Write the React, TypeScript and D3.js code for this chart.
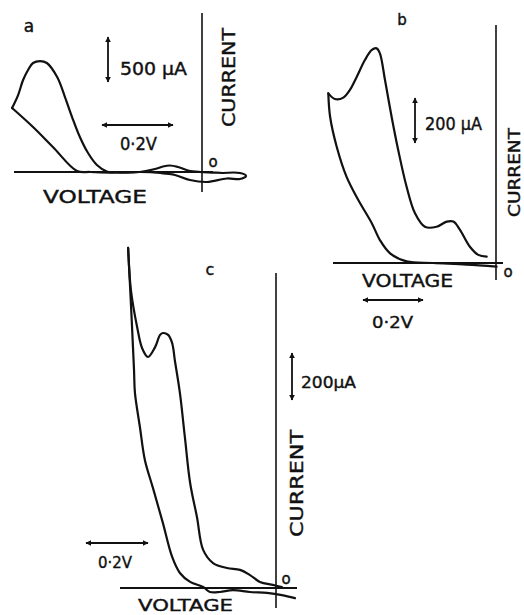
import React from "react";
import * as d3 from "d3";

// ---- Panel a : voltage (V, relative to current axis), current (μA)
const aSweepOut: [number, number][] = [
  [0.059, -11], [0.107, -11], [0.124, -44], [0.107, -78], [0.07, -72],
  [0.014, -111], [-0.034, -89], [-0.076, -33], [-0.118, -11], [-0.175, 0],
  [-0.259, -6], [-0.315, 0], [-0.352, 11], [-0.42, 278], [-0.476, 500], [-0.535, 711],
];
const aSweepBack: [number, number][] = [
  [-0.535, 711], [-0.518, 855], [-0.504, 1022], [-0.49, 1133], [-0.476, 1211],
  [-0.456, 1233], [-0.437, 1211], [-0.408, 1055], [-0.386, 833], [-0.366, 611],
  [-0.344, 389], [-0.321, 211], [-0.296, 78], [-0.268, 6], [-0.231, -6],
  [-0.175, 0], [-0.132, 33], [-0.11, 61], [-0.09, 72], [-0.068, 56],
  [-0.039, 17], [-0.006, 0], [0.028, -6], [0.059, -11],
];

// ---- Panel b
const bSweepOut: [number, number][] = [
  [0.002, -16], [-0.098, -7], [-0.209, 0], [-0.298, 7], [-0.353, 43],
  [-0.387, 102], [-0.414, 177], [-0.459, 280], [-0.498, 383], [-0.531, 517],
  [-0.553, 650], [-0.559, 754],
];
const bSweepBack: [number, number][] = [
  [-0.559, 754], [-0.537, 729], [-0.509, 735], [-0.487, 769], [-0.464, 828],
  [-0.437, 902], [-0.414, 947], [-0.398, 954], [-0.387, 932], [-0.37, 813],
  [-0.348, 650], [-0.326, 502], [-0.298, 339], [-0.27, 221], [-0.237, 161],
  [-0.198, 161], [-0.164, 184], [-0.142, 184], [-0.12, 147], [-0.087, 72],
  [-0.059, 36], [-0.031, 28],
];

// ---- Panel c
const cSweepOut: [number, number][] = [
  [0.061, -43], [0.019, -30], [-0.029, -21], [-0.084, -17], [-0.139, -9],
  [-0.181, -17], [-0.213, -17], [-0.235, 4], [-0.277, 26], [-0.31, 64],
  [-0.335, 132], [-0.365, 277], [-0.397, 426], [-0.423, 545], [-0.439, 685],
  [-0.455, 830], [-0.458, 928], [-0.465, 1128], [-0.477, 1447],
];
const cSweepBack: [number, number][] = [
  [-0.477, 1447], [-0.468, 1268], [-0.448, 1111], [-0.432, 1021], [-0.413, 983],
  [-0.39, 1025], [-0.374, 1077], [-0.365, 1085], [-0.348, 1077], [-0.335, 1042],
  [-0.326, 966], [-0.31, 830], [-0.294, 643], [-0.277, 447], [-0.255, 302],
  [-0.235, 162], [-0.203, 106], [-0.158, 85], [-0.116, 77], [-0.084, 55],
  [-0.052, 26], [-0.01, 13], [0.019, 4],
];

// scale bar steps
const voltStep = 0.2;
const aCurrentStep = 500;
const bCurrentStep = 200;
const cCurrentStep = 200;

type Lbl = { t: string; x: number; y: number; size: number; len?: number; anchor?: string; rot?: boolean };

const panels = [
  {
    key: "a", sweeps: [aSweepOut, aSweepBack], iStep: aCurrentStep,
    ox: 202, oy: 172, vPx: 71, iPx: 45,
    axisY: [13, 192], baseX: [14, 213],
    vArrow: [108, 37], hArrow: [102, 125],
    labels: [
      { t: "a", x: 29, y: 32, size: 17, anchor: "middle" },
      { t: "500 μA", x: 120, y: 75, size: 17, len: 67 },
      { t: "0·2V", x: 120, y: 150, size: 17, len: 37 },
      { t: "CURRENT", x: 235, y: 127, size: 18, len: 99, rot: true },
      { t: "VOLTAGE", x: 43, y: 203, size: 17, len: 104 },
      { t: "o", x: 213, y: 167, size: 15, anchor: "middle" },
    ] as Lbl[],
  },
  {
    key: "b", sweeps: [bSweepOut, bSweepBack], iStep: bCurrentStep,
    ox: 496, oy: 263, vPx: 60, iPx: 45,
    axisY: [25, 280], baseX: [333, 503],
    vArrow: [415, 98], hArrow: [363, 300],
    labels: [
      { t: "b", x: 402, y: 25, size: 15, anchor: "middle" },
      { t: "200 μA", x: 425, y: 130, size: 17, len: 57 },
      { t: "CURRENT", x: 520, y: 217, size: 15, len: 89, rot: true },
      { t: "o", x: 508, y: 277, size: 15, anchor: "middle" },
      { t: "VOLTAGE", x: 362, y: 287, size: 18, len: 91 },
      { t: "0·2V", x: 372, y: 328, size: 16, len: 41 },
    ] as Lbl[],
  },
  {
    key: "c", sweeps: [cSweepOut, cSweepBack], iStep: cCurrentStep,
    ox: 276, oy: 588, vPx: 62, iPx: 47,
    axisY: [273, 608], baseX: [120, 297],
    vArrow: [292, 353], hArrow: [86, 543],
    labels: [
      { t: "c", x: 210, y: 275, size: 16, anchor: "middle" },
      { t: "200μA", x: 301, y: 388, size: 16, len: 55 },
      { t: "CURRENT", x: 303, y: 537, size: 18, len: 107, rot: true },
      { t: "o", x: 286, y: 584, size: 15, anchor: "middle" },
      { t: "VOLTAGE", x: 138, y: 611, size: 16, len: 95 },
      { t: "0·2V", x: 98, y: 568, size: 16, len: 34 },
    ] as Lbl[],
  },
];

const INK = "#111";
const FONT = "'DejaVu Sans', 'Liberation Sans', sans-serif";

export default function App() {
  return (
    <svg width={524} height={615} viewBox="0 0 524 615"
      style={{ position: "absolute", left: 0, top: 0, background: "#fff" }}>
      <defs>
        <marker id="ah" viewBox="0 0 10 10" refX="9" refY="5" markerWidth="6" markerHeight="6"
          markerUnits="userSpaceOnUse" orient="auto-start-reverse">
          <path d="M0,0 L10,5 L0,10 Z" fill={INK} />
        </marker>
      </defs>
      <rect width={524} height={615} fill="#fff" />
      {panels.map((p) => {
        const x = d3.scaleLinear().domain([0, voltStep]).range([p.ox, p.ox + p.vPx]);
        const y = d3.scaleLinear().domain([0, p.iStep]).range([p.oy, p.oy - p.iPx]);
        const line = d3.line<[number, number]>()
          .x((d) => x(d[0]))
          .y((d) => y(d[1]))
          .curve(d3.curveCatmullRom.alpha(0.5));
        const hLen = x(voltStep) - x(0);
        const vLen = y(0) - y(p.iStep);
        return (
          <g key={p.key}>
            {/* current axis */}
            <line x1={x(0)} x2={x(0)} y1={p.axisY[0]} y2={p.axisY[1]} stroke={INK} strokeWidth={1.6} />
            {/* zero-current baseline */}
            <line x1={p.baseX[0]} x2={p.baseX[1]} y1={y(0)} y2={y(0)} stroke={INK} strokeWidth={1.8} />
            {p.sweeps.map((s, i) => (
              <path key={i} d={line(s) || ""} fill="none" stroke={INK} strokeWidth={2.2}
                strokeLinejoin="round" strokeLinecap="round" />
            ))}
            {/* scale bars */}
            <line x1={p.vArrow[0]} x2={p.vArrow[0]} y1={p.vArrow[1]} y2={p.vArrow[1] + vLen}
              stroke={INK} strokeWidth={1.8} markerStart="url(#ah)" markerEnd="url(#ah)" />
            <line x1={p.hArrow[0]} x2={p.hArrow[0] + hLen} y1={p.hArrow[1]} y2={p.hArrow[1]}
              stroke={INK} strokeWidth={1.8} markerStart="url(#ah)" markerEnd="url(#ah)" />
            {p.labels.map((l, i) => (
              <text key={i} x={l.x} y={l.y} fontSize={l.size} fontFamily={FONT} fill={INK}
                stroke={INK} strokeWidth={0.4}
                textAnchor={l.anchor || "start"}
                textLength={l.len} lengthAdjust={l.len ? "spacingAndGlyphs" : undefined}
                transform={l.rot ? `rotate(-90 ${l.x} ${l.y})` : undefined}>
                {l.t}
              </text>
            ))}
          </g>
        );
      })}
    </svg>
  );
}
